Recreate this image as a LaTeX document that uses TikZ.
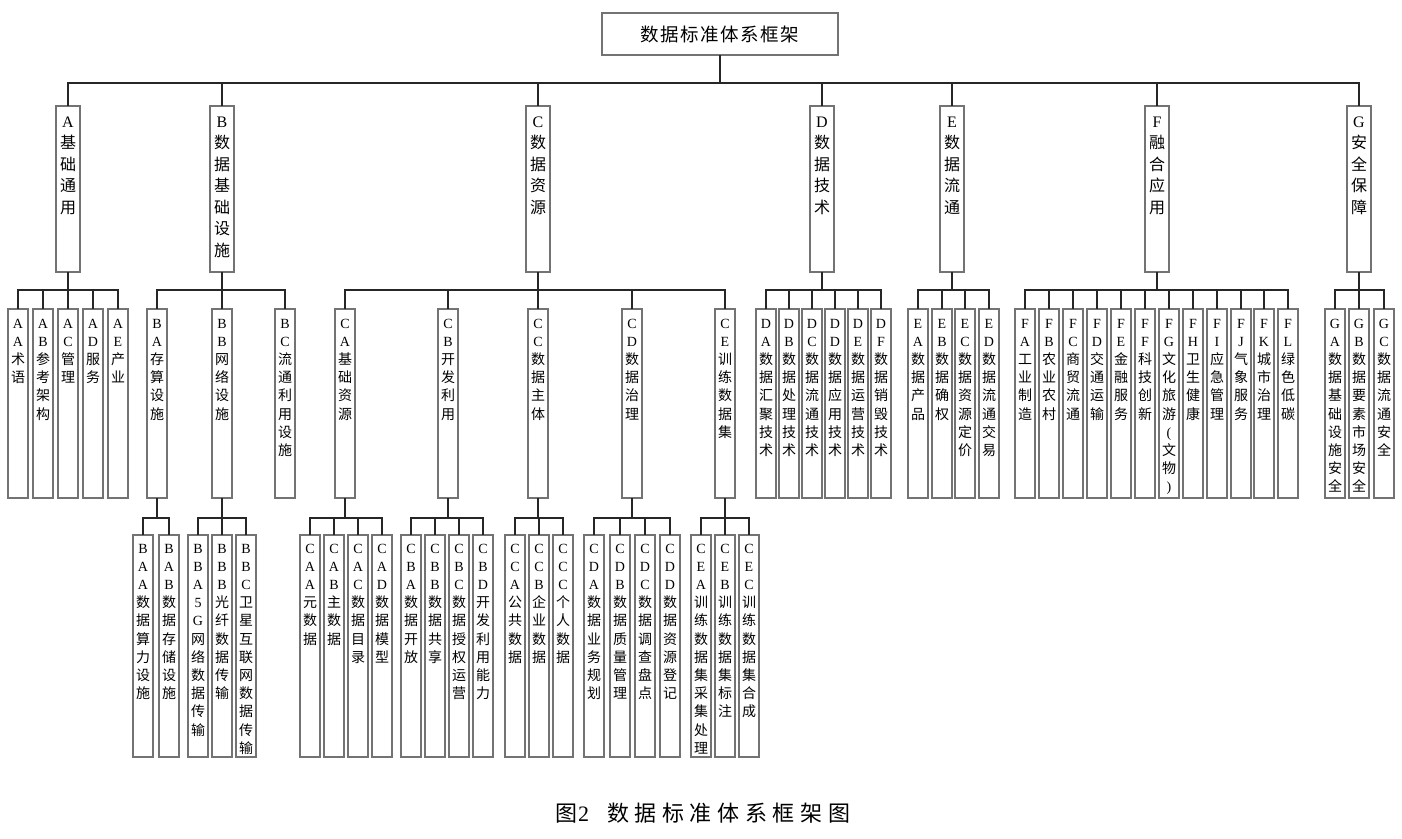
\documentclass[tikz,border=0pt]{standalone}
\usepackage{fontspec}
\setmainfont{Liberation Serif}
\newfontfamily\cjk{Noto Sans CJK SC}
\ExplSyntaxOn
\NewDocumentCommand \vstack { m }
  {
    \tl_map_inline:nn {#1}
      {
        \mystrut
        \int_compare:nNnTF { `##1 } > { 255 } { { \cjk ##1 } } { ##1 }
        \par
      }
  }
\NewDocumentCommand \spaced { m m }
  { \tl_map_inline:nn {#2} { { \cjk ##1 } \kern #1 \scan_stop: } }
\ExplSyntaxOff
\newcommand\vone[1]{\parbox[t][166pt][t]{24pt}{\centering\fontsize{16pt}{21.5pt}\selectfont\def\mystrut{\rule[-6pt]{0pt}{21.5pt}}\vspace*{5.5pt}\vstack{#1}}}
\newcommand\vtwo[1]{\parbox[t][189pt][t]{20pt}{\centering\fontsize{14pt}{18.2pt}\selectfont\def\mystrut{\rule[-5pt]{0pt}{18.2pt}}\vspace*{5.8pt}\vstack{#1}}}
\newcommand\vthree[1]{\parbox[t][222pt][t]{20pt}{\centering\fontsize{14pt}{18.2pt}\selectfont\def\mystrut{\rule[-5pt]{0pt}{18.2pt}}\vspace*{4.8pt}\vstack{#1}}}
\tikzset{
  box/.style={draw=black!55, line width=1.3pt, inner sep=0pt, outer sep=0pt, anchor=north},
  conn/.style={draw=black!85, line width=1.2pt},
}
\newcommand\Lone[3]{\node[box] (#1) at (#2,106) {\vone{#3}};}
\newcommand\Ltwo[3]{\node[box] (#1) at (#2,309) {\vtwo{#3}};}
\newcommand\Lthree[3]{\node[box] (#1) at (#2,535) {\vthree{#3}};}
\newcommand\conn[3]{\draw[conn] (#1.south) -- (#1.south |- #3) -| (#2.north);}
\begin{document}
\begin{tikzpicture}[x=1pt,y=-1pt]
\useasboundingbox (0,0) rectangle (1402,838);
\coordinate (bus0) at (0,83);
\coordinate (bus1) at (0,290);
\coordinate (bus2) at (0,518);
% root
\node[box, anchor=center, minimum width=236pt, minimum height=42pt, font=\fontsize{18.5pt}{22pt}\selectfont] (root) at (720,34) {\hspace*{1.5pt}\spaced{1.5pt}{数据标准体系框架}};
% level 1
\Lone{A}{68}{A基础通用}
\Lone{B}{222}{B数据基础设施}
\Lone{C}{538}{C数据资源}
\Lone{D}{822}{D数据技术}
\Lone{E}{952}{E数据流通}
\Lone{F}{1157}{F融合应用}
\Lone{G}{1359}{G安全保障}
\foreach \c in {A,B,C,D,E,F,G}{\conn{root}{\c}{bus0}}
% level 2
\Ltwo{AA}{18}{AA术语}
\Ltwo{AB}{43}{AB参考架构}
\Ltwo{AC}{68}{AC管理}
\Ltwo{AD}{93}{AD服务}
\Ltwo{AE}{118}{AE产业}
\Ltwo{BA}{157}{BA存算设施}
\Ltwo{BB}{222}{BB网络设施}
\Ltwo{BC}{285}{BC流通利用设施}
\Ltwo{CA}{345}{CA基础资源}
\Ltwo{CB}{448}{CB开发利用}
\Ltwo{CC}{538}{CC数据主体}
\Ltwo{CD}{632}{CD数据治理}
\Ltwo{CE}{725}{CE训练数据集}
\Ltwo{DA}{766}{DA数据汇聚技术}
\Ltwo{DB}{789}{DB数据处理技术}
\Ltwo{DC}{812}{DC数据流通技术}
\Ltwo{DD}{835}{DD数据应用技术}
\Ltwo{DE}{858}{DE数据运营技术}
\Ltwo{DF}{881}{DF数据销毁技术}
\Ltwo{EA}{918}{EA数据产品}
\Ltwo{EB}{942}{EB数据确权}
\Ltwo{EC}{965}{EC数据资源定价}
\Ltwo{ED}{989}{ED数据流通交易}
\Ltwo{FA}{1025}{FA工业制造}
\Ltwo{FB}{1049}{FB农业农村}
\Ltwo{FC}{1073}{FC商贸流通}
\Ltwo{FD}{1097}{FD交通运输}
\Ltwo{FE}{1121}{FE金融服务}
\Ltwo{FF}{1145}{FF科技创新}
\Ltwo{FG}{1169}{FG文化旅游(文物)}
\Ltwo{FH}{1193}{FH卫生健康}
\Ltwo{FI}{1217}{FI应急管理}
\Ltwo{FJ}{1241}{FJ气象服务}
\Ltwo{FK}{1264}{FK城市治理}
\Ltwo{FL}{1288}{FL绿色低碳}
\Ltwo{GA}{1335}{GA数据基础设施安全}
\Ltwo{GB}{1359}{GB数据要素市场安全}
\Ltwo{GC}{1384}{GC数据流通安全}
\foreach \c in {AA,AB,AC,AD,AE}{\conn{A}{\c}{bus1}}
\foreach \c in {BA,BB,BC}{\conn{B}{\c}{bus1}}
\foreach \c in {CA,CB,CC,CD,CE}{\conn{C}{\c}{bus1}}
\foreach \c in {DA,DB,DC,DD,DE,DF}{\conn{D}{\c}{bus1}}
\foreach \c in {EA,EB,EC,ED}{\conn{E}{\c}{bus1}}
\foreach \c in {FA,FB,FC,FD,FE,FF,FG,FH,FI,FJ,FK,FL}{\conn{F}{\c}{bus1}}
\foreach \c in {GA,GB,GC}{\conn{G}{\c}{bus1}}
% level 3
\Lthree{BAA}{143}{BAA数据算力设施}
\Lthree{BAB}{169}{BAB数据存储设施}
\Lthree{BBA}{198}{BBA5G网络数据传输}
\Lthree{BBB}{222}{BBB光纤数据传输}
\Lthree{BBC}{246}{BBC卫星互联网数据传输}
\Lthree{CAA}{310}{CAA元数据}
\Lthree{CAB}{334}{CAB主数据}
\Lthree{CAC}{358}{CAC数据目录}
\Lthree{CAD}{382}{CAD数据模型}
\Lthree{CBA}{411}{CBA数据开放}
\Lthree{CBB}{435}{CBB数据共享}
\Lthree{CBC}{459}{CBC数据授权运营}
\Lthree{CBD}{483}{CBD开发利用能力}
\Lthree{CCA}{515}{CCA公共数据}
\Lthree{CCB}{539}{CCB企业数据}
\Lthree{CCC}{563}{CCC个人数据}
\Lthree{CDA}{594}{CDA数据业务规划}
\Lthree{CDB}{620}{CDB数据质量管理}
\Lthree{CDC}{645}{CDC数据调查盘点}
\Lthree{CDD}{670}{CDD数据资源登记}
\Lthree{CEA}{701}{CEA训练数据集采集处理}
\Lthree{CEB}{725}{CEB训练数据集标注}
\Lthree{CEC}{749}{CEC训练数据集合成}
\foreach \c in {BAA,BAB}{\conn{BA}{\c}{bus2}}
\foreach \c in {BBA,BBB,BBC}{\conn{BB}{\c}{bus2}}
\foreach \c in {CAA,CAB,CAC,CAD}{\conn{CA}{\c}{bus2}}
\foreach \c in {CBA,CBB,CBC,CBD}{\conn{CB}{\c}{bus2}}
\foreach \c in {CCA,CCB,CCC}{\conn{CC}{\c}{bus2}}
\foreach \c in {CDA,CDB,CDC,CDD}{\conn{CD}{\c}{bus2}}
\foreach \c in {CEA,CEB,CEC}{\conn{CE}{\c}{bus2}}
% caption
\node[anchor=base west, inner sep=0pt, font=\fontsize{22pt}{26pt}\selectfont] (cap) at (555,821) {{\cjk 图}\kern1pt 2\kern18pt\spaced{5.6pt}{数据标准体系框架图}};
\end{tikzpicture}
\end{document}
